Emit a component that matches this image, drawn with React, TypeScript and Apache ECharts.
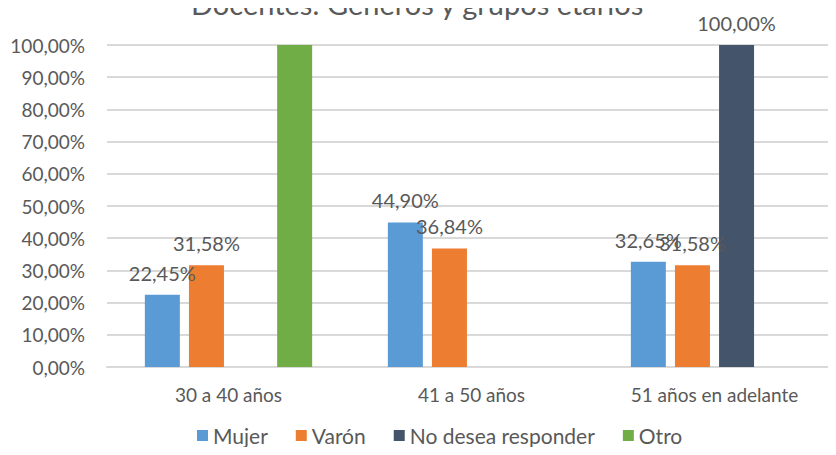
import React, { useEffect, useRef } from "react";
import * as echarts from "echarts";

const categories = ["30 a 40 años", "41 a 50 años", "51 años en adelante"];
const seriesNames = ["Mujer", "Varón", "No desea responder", "Otro"];
const mujer = [22.45, 44.9, 32.65];
const varon = [31.58, 36.84, 31.58];
const noDesea = [null, null, 100];
const otro = [100, null, null];
const colors = ["#5b9bd5", "#ed7d31", "#44546a", "#70ad47"];
const showLabels = [true, true, true, false];

const fmt = (v: number) => v.toFixed(2).replace(".", ",") + "%";
const FONT = "Lato";

export default function App() {
  const ref = useRef<HTMLDivElement>(null);
  useEffect(() => {
    if (!ref.current) return;
    const chart = echarts.init(ref.current, null, { renderer: "svg" });
    const data = [mujer, varon, noDesea, otro];
    chart.setOption({
      animation: false,
      textStyle: { fontFamily: FONT },
      title: {
        text: "Docentes: Géneros y grupos etarios",
        left: 186,
        top: -16,
        textStyle: { fontFamily: FONT, fontSize: 29, fontWeight: "normal", color: "#595959" },
      },
      grid: { left: 107, right: 0, top: 45, bottom: 88, containLabel: false },
      legend: {
        data: seriesNames,
        top: 420,
        left: 192,
        icon: "rect",
        itemWidth: 11,
        itemHeight: 11,
        itemGap: 28,
        textStyle: { fontFamily: FONT, fontSize: 21, color: "#595959" },
      },
      xAxis: {
        type: "category",
        data: categories,
        axisLine: { lineStyle: { color: "#d9d9d9", width: 2 } },
        axisTick: { show: false },
        axisLabel: { fontFamily: FONT, fontSize: 19, color: "#595959", margin: 18 },
      },
      yAxis: {
        type: "value",
        min: 0,
        max: 100,
        interval: 10,
        axisLine: { show: false },
        axisTick: { show: false },
        splitLine: { lineStyle: { color: "#d9d9d9", width: 2 } },
        axisLabel: {
          fontFamily: FONT,
          fontSize: 19,
          color: "#595959",
          margin: 22,
          formatter: (v: number) => fmt(v),
        },
      },
      series: seriesNames.map((name, i) => ({
        name,
        type: "bar",
        data: data[i],
        barWidth: 35,
        barGap: "26%",
        itemStyle: { color: colors[i] },
        label: {
          show: showLabels[i],
          position: "top",
          distance: 12,
          fontFamily: FONT,
          fontSize: 20,
          color: "#595959",
          formatter: (p: any) => (p.value == null ? "" : fmt(p.value)),
        },
      })),
    });
    return () => chart.dispose();
  }, []);
  return <div ref={ref} style={{ width: 836, height: 455, margin: -8 }} />;
}
